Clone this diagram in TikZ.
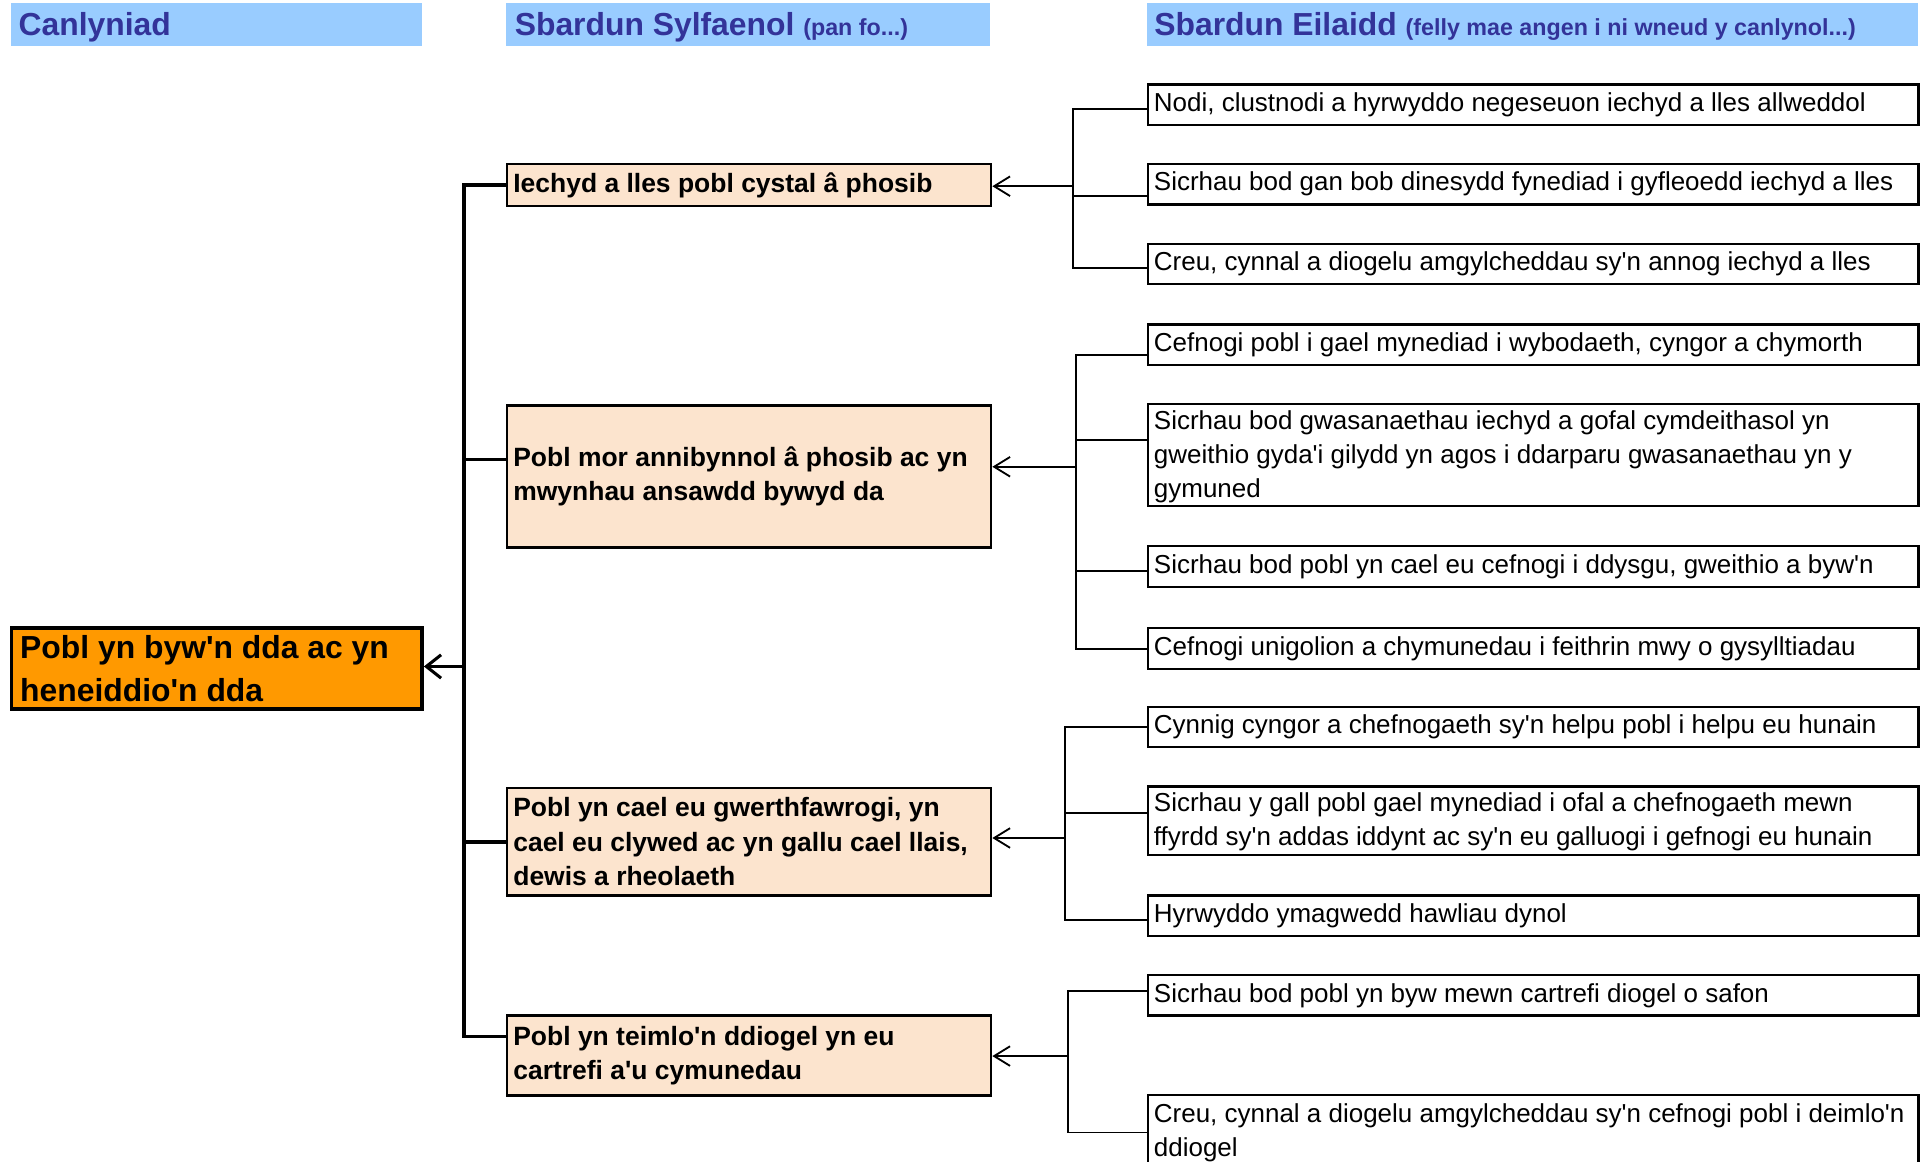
\documentclass[tikz,border=0pt]{standalone}
\usepackage{fontspec}
\newfontfamily\arialf{Liberation Sans}
\usetikzlibrary{arrows.meta}
\definecolor{hdrfill}{HTML}{99CCFF}
\definecolor{hdrtext}{HTML}{333399}
\definecolor{mainfill}{HTML}{FF9900}
\definecolor{drvfill}{HTML}{FCE4CE}
\newcommand\natsp{\spaceskip=0pt\xspaceskip=0pt\relax}
\begin{document}
\begin{tikzpicture}[x=1pt,y=-1pt,
  hdr/.style={anchor=north west, fill=hdrfill, inner xsep=6pt, inner ysep=0pt,
    minimum height=35pt, text width=#1, align=left, text=hdrtext,
    text height=23pt, text depth=5pt,
    font=\arialf\bfseries\fontsize{26}{30}\selectfont},
  mainbox/.style={anchor=north west, draw, line width=3pt, fill=mainfill,
    inner xsep=7pt, inner ysep=0pt, text width=321pt, minimum height=66pt, align=left,
    font=\arialf\bfseries\fontsize{26}{35}\selectfont},
  drv/.style={anchor=north west, draw, line width=2pt, fill=drvfill,
    inner xsep=5pt, inner ysep=0pt, text width=385pt, minimum height=#1, align=left,
    font=\arialf\bfseries\fontsize{21.6}{28}\selectfont},
  act/.style={anchor=north west, draw, line width=1.8pt, fill=white,
    inner xsep=5pt, inner ysep=0pt, text width=619pt, minimum height=#1, align=left,
    font=\arialf\fontsize{21.2}{27.5}\selectfont},
  trunkline/.style={line width=3pt},
  subline/.style={line width=1.5pt},
  mainarrow/.style={line width=3pt, -{Straight Barb[length=12pt,width=19pt,line width=2.5pt]}},
  subarrow/.style={line width=1.5pt, -{Straight Barb[length=13pt,width=16pt,line width=1.5pt]}}
]
\clip (0,0) rectangle (1568,948);
\fill[white] (0,0) rectangle (1568,948);

% headers
\node[hdr=323pt] (h1) at (9,2) {\natsp\mbox{Canlyniad}};
\node[hdr=381pt, inner xsep=7pt] (h2) at (413,2) {\natsp\mbox{Sbardun Sylfaenol {\fontsize{19}{22}\selectfont (pan fo...)}}};
\node[hdr=617pt] (h3) at (936,2) {\natsp\mbox{Sbardun Eilaidd {\fontsize{19}{22}\selectfont (felly mae angen i ni wneud y canlynol...)}}};

% outcome
\node[mainbox] (main) at (8,511) {\natsp Pobl yn byw'n dda ac yn\\ heneiddio'n dda};

% primary drivers
\node[drv=34pt] (A) at (413,133) {\natsp Iechyd a lles pobl cystal â phosib};
\node[drv=116pt] (B) at (413,330) {\natsp Pobl mor annibynnol â phosib ac yn\\ mwynhau ansawdd bywyd da};
\node[drv=88pt] (C) at (413,642) {\natsp Pobl yn cael eu gwerthfawrogi, yn\\ cael eu clywed ac yn gallu cael llais,\\ dewis a rheolaeth};
\node[drv=65pt] (D) at (413,828) {\natsp Pobl yn teimlo'n ddiogel yn eu\\ cartrefi a'u cymunedau};

% secondary drivers
\node[act=33pt] (b1) at (936,68) {\natsp Nodi, clustnodi a hyrwyddo negeseuon iechyd a lles allweddol};
\node[act=33pt] (b2) at (936,133) {\natsp Sicrhau bod gan bob dinesydd fynediad i gyfleoedd iechyd a lles};
\node[act=33pt] (b3) at (936,198) {\natsp Creu, cynnal a diogelu amgylcheddau sy'n annog iechyd a lles};
\node[act=33pt] (b4) at (936,264) {\natsp Cefnogi pobl i gael mynediad i wybodaeth, cyngor a chymorth};
\node[act=83pt, text height=18pt] (b5) at (936,329) {\natsp Sicrhau bod gwasanaethau iechyd a gofal cymdeithasol yn\\ gweithio gyda'i gilydd yn agos i ddarparu gwasanaethau yn y\\ gymuned};
\node[act=33pt] (b6) at (936,445) {\natsp Sicrhau bod pobl yn cael eu cefnogi i ddysgu, gweithio a byw'n};
\node[act=33pt] (b7) at (936,512) {\natsp Cefnogi unigolion a chymunedau i feithrin mwy o gysylltiadau};
\node[act=33pt] (b8) at (936,576) {\natsp Cynnig cyngor a chefnogaeth sy'n helpu pobl i helpu eu hunain};
\node[act=56pt, text height=17pt] (b9) at (936,641) {\natsp Sicrhau y gall pobl gael mynediad i ofal a chefnogaeth mewn\\ ffyrdd sy'n addas iddynt ac sy'n eu galluogi i gefnogi eu hunain};
\node[act=33pt] (b10) at (936,730) {\natsp Hyrwyddo ymagwedd hawliau dynol};
\node[act=33pt] (b11) at (936,795) {\natsp Sicrhau bod pobl yn byw mewn cartrefi diogel o safon};
\node[act=61pt] (b12) at (936,893) {\natsp Creu, cynnal a diogelu amgylcheddau sy'n cefnogi pobl i deimlo'n\\ ddiogel};

% main trunk
\coordinate (trunk) at (379,544);
\draw[trunkline] (A.west) -| (trunk) |- ([yshift=15.5pt]D.west);
\draw[trunkline] ([yshift=14pt]B.west) -- ([yshift=14pt]B.west -| trunk);
\draw[trunkline] (C.west) -- (C.west -| trunk);
\draw[mainarrow] (trunk) -- (trunk -| main.east);

% group A
\coordinate (sA) at (876,152);
\draw[subline] ([yshift=-3.5pt]b1.west) -| (sA) |- ([yshift=-3.5pt]b3.west);
\draw[subline] ([yshift=-9.5pt]b2.west) -- ([yshift=-9.5pt]b2.west -| sA);
\draw[subarrow] (sA) -- (sA -| A.east);

% group B
\coordinate (sB) at (878,381);
\draw[subline] ([yshift=-8.5pt]b4.west) -| (sB) |- (b7.west);
\draw[subline] ([yshift=12.5pt]b5.west) -- ([yshift=12.5pt]b5.west -| sB);
\draw[subline] ([yshift=-3.5pt]b6.west) -- ([yshift=-3.5pt]b6.west -| sB);
\draw[subarrow] (sB) -- (sB -| B.east);

% group C
\coordinate (sC) at (869,684);
\draw[subline] (b8.west) -| (sC) |- ([yshift=-3.5pt]b10.west);
\draw[subline] ([yshift=6pt]b9.west) -- ([yshift=6pt]b9.west -| sC);
\draw[subarrow] (sC) -- (sC -| C.east);

% group D
\coordinate (sD) at (872,862);
\draw[subline] ([yshift=3.5pt]b11.west) -| (sD) |- (b12.west);
\draw[subarrow] (sD) -- (sD -| D.east);
\end{tikzpicture}
\end{document}
